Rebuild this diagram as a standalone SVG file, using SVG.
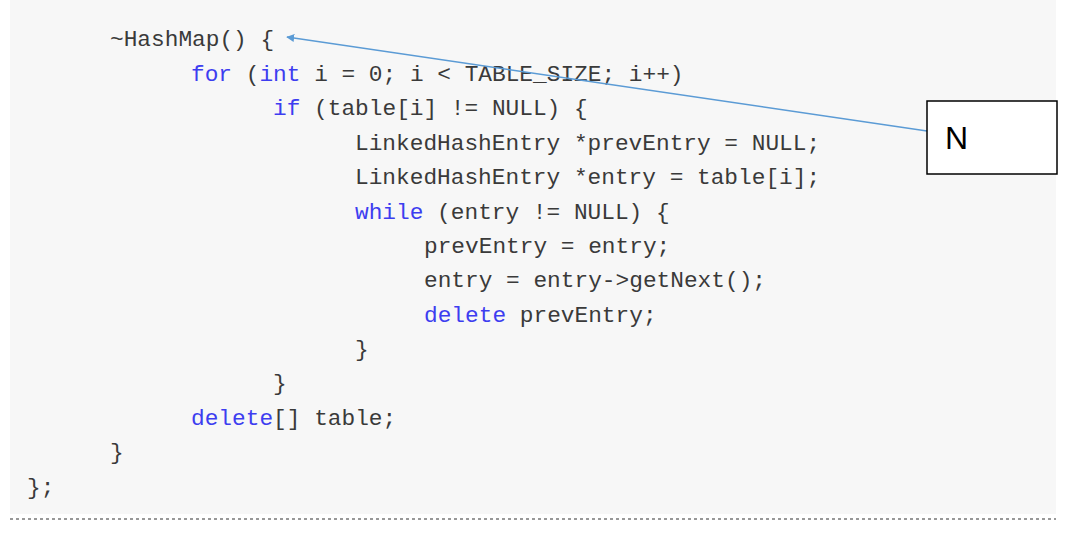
<svg xmlns="http://www.w3.org/2000/svg" width="1086" height="536" viewBox="0 0 1086 536">
<style>
.c{font-family:"Liberation Mono","Courier New",monospace;font-size:22.8px;fill:#3a3a3a;white-space:pre}
.k{fill:#3d3df0}
</style>
<defs><marker id="a" viewBox="0 0 10 10" refX="9" refY="5" markerWidth="8" markerHeight="8" orient="auto-start-reverse" markerUnits="userSpaceOnUse"><path d="M0,0L10,5L0,10z" fill="#5b9bd5"/></marker></defs>
<rect x="0" y="0" width="1086" height="536" fill="#ffffff"/>
<rect x="10" y="0" width="1046" height="514" fill="#f7f7f7"/>
<line x1="10" y1="519" x2="1056" y2="519" stroke="#777" stroke-width="1.5" stroke-dasharray="3,3"/>
<g id="code">
<text class="c" x="110" y="46">~HashMap() {</text>
<text class="c" x="191" y="81"><tspan class="k">for</tspan> (<tspan class="k">int</tspan> i = 0; i &lt; TABLE_SIZE; i++)</text>
<text class="c" x="273" y="115"><tspan class="k">if</tspan> (table[i] != NULL) {</text>
<text class="c" x="355" y="150">LinkedHashEntry *prevEntry = NULL;</text>
<text class="c" x="355" y="184">LinkedHashEntry *entry = table[i];</text>
<text class="c" x="355" y="219"><tspan class="k">while</tspan> (entry != NULL) {</text>
<text class="c" x="424" y="253">prevEntry = entry;</text>
<text class="c" x="424" y="287">entry = entry-&gt;getNext();</text>
<text class="c" x="424" y="322"><tspan class="k">delete</tspan> prevEntry;</text>
<text class="c" x="355" y="356">}</text>
<text class="c" x="273" y="390">}</text>
<text class="c" x="191" y="425"><tspan class="k">delete</tspan>[] table;</text>
<text class="c" x="110" y="459">}</text>
<text class="c" x="27" y="494">};</text>
</g>
<g id="connectors">
<line x1="927" y1="131" x2="287" y2="37" stroke="#5b9bd5" stroke-width="1.5" marker-end="url(#a)"/>
</g>
<g id="N">
<rect x="927" y="101" width="130" height="73" fill="#fff" stroke="#000" stroke-width="1.5"/>
<text x="945" y="149" font-family="Liberation Sans,Arial,sans-serif" font-size="32" fill="#000">N</text>
</g>
</svg>
